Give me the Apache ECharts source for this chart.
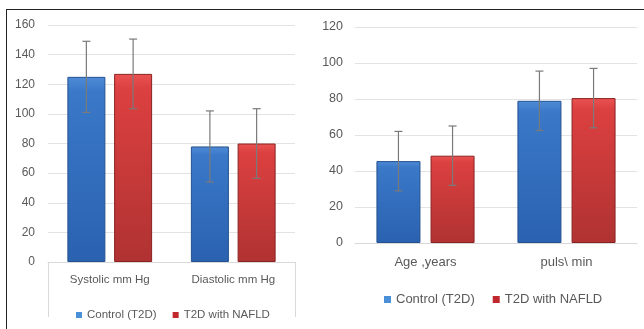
<!DOCTYPE html>
<html><head><meta charset="utf-8">
<script src="https://cdn.jsdelivr.net/npm/echarts@6/dist/echarts.min.js"></script>
<style>html,body{margin:0;padding:0;background:#fff}#c{width:644px;height:329px}</style>
</head><body><div id="c"></div>
<script>
var seriesNames = ['Control (T2D)', 'T2D with NAFLD'];
var leftCategories = ['Systolic mm Hg', 'Diastolic mm Hg'];
var leftControl = [125, 78];
var leftNafld = [127, 80];
var leftControlSD = [24, 24];
var leftNafldSD = [23.5, 23.5];
var rightCategories = ['Age ,years', 'puls\\ min'];
var rightControl = [45.5, 79];
var rightNafld = [48.5, 80.5];
var rightControlSD = [16.5, 16.5];
var rightNafldSD = [16.5, 16.5];

var FONT = 'Liberation Sans';
var blueFill = {type:'linear',x:0,y:0,x2:0,y2:1,colorStops:[{offset:0,color:'#4f8bd6'},{offset:0.08,color:'#3a78c8'},{offset:1,color:'#2a62b0'}]};
var redFill = {type:'linear',x:0,y:0,x2:0,y2:1,colorStops:[{offset:0,color:'#ea5252'},{offset:0.08,color:'#dc4040'},{offset:1,color:'#b03232'}]};
var legendIcons = [
  {name: seriesNames[0], itemStyle: {color: '#4a90d9', borderWidth: 0}},
  {name: seriesNames[1], itemStyle: {color: '#c0282d', borderWidth: 0}}
];

function errSeries(name, xIdx, yIdx, means, sds, side, barW) {
  var gap = barW * 0.23;
  return {
    type: 'custom', name: name, xAxisIndex: xIdx, yAxisIndex: yIdx, z: 5,
    silent: true,
    data: means.map(function (m, i) { return [i, m - sds[i], m + sds[i]]; }),
    renderItem: function (params, api) {
      var lo = api.coord([api.value(0), api.value(1)]);
      var hi = api.coord([api.value(0), api.value(2)]);
      var x = lo[0] + side * (barW + gap) / 2;
      var st = {stroke: '#7a7a7a', lineWidth: 1.2};
      return {type: 'group', children: [
        {type: 'line', shape: {x1: x, y1: lo[1], x2: x, y2: hi[1]}, style: st},
        {type: 'line', shape: {x1: x - 4, y1: lo[1], x2: x + 4, y2: lo[1]}, style: st},
        {type: 'line', shape: {x1: x - 4, y1: hi[1], x2: x + 4, y2: hi[1]}, style: st}
      ]};
    }
  };
}

var chart = echarts.init(document.getElementById('c'), null, {renderer: 'canvas'});
chart.setOption({
  animation: false,
  textStyle: {fontFamily: FONT},
  grid: [
    {left: 48, right: 349, top: 25, bottom: 67},
    {left: 355, right: 7, top: 27, bottom: 86}
  ],
  xAxis: [
    {type: 'category', gridIndex: 0, data: leftCategories, axisTick: {show: false},
     axisLine: {lineStyle: {color: '#d9d9d9'}},
     axisLabel: {color: '#595959', fontSize: 11.5, margin: 12, fontFamily: FONT}},
    {type: 'category', gridIndex: 1, data: rightCategories, axisTick: {show: false},
     axisLine: {lineStyle: {color: '#d9d9d9'}},
     axisLabel: {color: '#595959', fontSize: 13, margin: 13, fontFamily: FONT}}
  ],
  yAxis: [
    {type: 'value', gridIndex: 0, min: 0, max: 160, interval: 20,
     splitLine: {lineStyle: {color: '#e3e3e3'}},
     axisLabel: {color: '#595959', fontSize: 12, margin: 13, fontFamily: FONT}},
    {type: 'value', gridIndex: 1, min: 0, max: 120, interval: 20,
     splitLine: {lineStyle: {color: '#e3e3e3'}},
     axisLabel: {color: '#595959', fontSize: 12.5, margin: 12, fontFamily: FONT}}
  ],
  legend: [
    {left: 71, top: 304, itemWidth: 6, itemHeight: 6, itemGap: 16, icon: 'rect',
     data: legendIcons, textStyle: {color: '#595959', fontSize: 11.5, fontFamily: FONT}},
    {left: 379, top: 288, itemWidth: 7, itemHeight: 7, itemGap: 18, icon: 'rect',
     data: legendIcons, textStyle: {color: '#595959', fontSize: 13, fontFamily: FONT}}
  ],
  color: ['#4a90d9', '#c0282d'],
  series: [
    {type: 'bar', name: seriesNames[0], xAxisIndex: 0, yAxisIndex: 0, data: leftControl,
     barWidth: 38, barGap: '23%', itemStyle: {color: blueFill, borderColor: '#24518f', borderWidth: 1}},
    {type: 'bar', name: seriesNames[1], xAxisIndex: 0, yAxisIndex: 0, data: leftNafld,
     barWidth: 38, barGap: '23%', itemStyle: {color: redFill, borderColor: '#8a2222', borderWidth: 1}},
    {type: 'bar', name: seriesNames[0], xAxisIndex: 1, yAxisIndex: 1, data: rightControl,
     barWidth: 44, barGap: '23%', itemStyle: {color: blueFill, borderColor: '#24518f', borderWidth: 1}},
    {type: 'bar', name: seriesNames[1], xAxisIndex: 1, yAxisIndex: 1, data: rightNafld,
     barWidth: 44, barGap: '23%', itemStyle: {color: redFill, borderColor: '#8a2222', borderWidth: 1}},
    errSeries('errL0', 0, 0, leftControl, leftControlSD, -1, 38),
    errSeries('errL1', 0, 0, leftNafld, leftNafldSD, 1, 38),
    errSeries('errR0', 1, 1, rightControl, rightControlSD, -1, 44),
    errSeries('errR1', 1, 1, rightNafld, rightNafldSD, 1, 44)
  ],
  graphic: [
    {type: 'line', shape: {x1: 6.5, y1: 9, x2: 6.5, y2: 329}, style: {stroke: '#222', lineWidth: 1}},
    {type: 'line', shape: {x1: 6, y1: 9.5, x2: 644, y2: 9.5}, style: {stroke: '#222', lineWidth: 1}},
    {type: 'line', shape: {x1: 48.5, y1: 262, x2: 48.5, y2: 317}, style: {stroke: '#d9d9d9', lineWidth: 1}},
    {type: 'line', shape: {x1: 295.5, y1: 262, x2: 295.5, y2: 317}, style: {stroke: '#d9d9d9', lineWidth: 1}}
  ]
});
</script>
</body></html>
